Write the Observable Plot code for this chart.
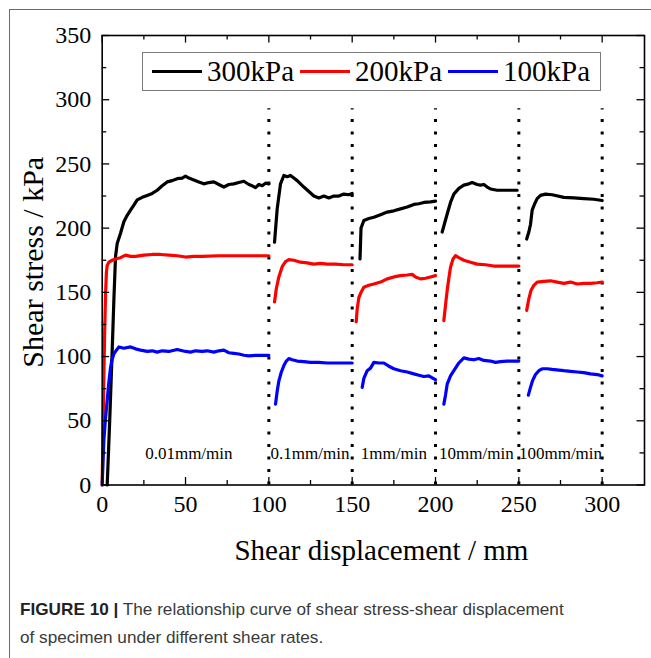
<!DOCTYPE html>
<html>
<head>
<meta charset="utf-8">
<script src="https://cdn.jsdelivr.net/npm/d3@7"></script>
<script src="https://cdn.jsdelivr.net/npm/@observablehq/plot@0.6"></script>
<style>
  html, body { margin: 0; padding: 0; background: #fff; }
  body { width: 651px; height: 658px; position: relative; overflow: hidden; }
  #outer { position: absolute; left: 9px; top: 9px; width: 700px; height: 700px;
           border-top: 1px solid #6b6b6b; border-left: 1px solid #6b6b6b; }
  #chart { position: absolute; left: 0; top: 0; }
  #chart svg, #chart svg text { font-family: 'Liberation Serif', 'Times New Roman', serif !important; }
  #legend { position: absolute; left: 142px; top: 52px; width: 459px; height: 39px;
            border: 1px solid #7a7a7a; background: #fff; display: flex; align-items: center;
            box-sizing: border-box; padding-left: 9px; font-family: 'Liberation Serif', 'Times New Roman', serif; font-size: 29px; }
  #legend .item { display: flex; align-items: center; margin-right: 6px; }
  #legend .sw { width: 50px; height: 3px; margin-right: 5px; }
  #caption { position: absolute; left: 20px; top: 596px; font-family: 'Liberation Sans', Arial, sans-serif;
             font-size: 17px; line-height: 28px; color: #3a3a3a; white-space: nowrap;
             transform-origin: 0 0; transform: scaleX(1.01); }
  #caption b { color: #222; }
</style>
</head>
<body>
<div id="outer"></div>
<div id="chart"></div>
<div id="legend"></div>
<div id="caption"><b>FIGURE 10 |</b> The relationship curve of shear stress-shear displacement<br>of specimen under different shear rates.</div>
<script>
// ---- Data ----
const seriesNames = ["300kPa", "200kPa", "100kPa"];
const seriesColors = ["#000000", "#ff0000", "#0000ff"];

// Segment boundaries (shear displacement, mm) where the rate changes
const rateBoundaries = [100, 150, 200, 250, 300];
const rateLabels = ["0.01mm/min", "0.1mm/min", "1mm/min", "10mm/min", "100mm/min"];
const rateLabelX = [52, 124.7, 175, 224.5, 275];
const rateLabelY = 24.5;

const xTickLabels = [0, 50, 100, 150, 200, 250, 300];
const xMinorTicks = [25, 75, 125, 175, 225, 275];
const yTickLabels = [0, 50, 100, 150, 200, 250, 300, 350];
const yMinorTicks = [25, 75, 125, 175, 225, 275, 325];

// 300 kPa
const x300 = [3,4.5,6,7,8,9,11,13,15,17,19,21,24,27,30,33,36,39,42,45,48,50,52,55,58,61,64,67,70,73,76,79,82,85,88,90,92,94,96,98,100,
  103.4,105,107,109,111,113,115,117,119,121,124,127,130,133,136,139,142,145,148,150,
  154.7,155.3,157,160,163,167,171,175,179,183,187,190,193,197,200,
  204,207,209,211,214,217,220,222,225,227,229,231,233,237,241,245,249,
  254.7,256,257,258,259.5,261,263,266,270,277,283,289,295,300];
const y300 = [0,50,105,144,178,188,196,205,210,214,218,222,224,225.5,227,229.5,233,236,237,238.5,239,240.5,239,237.5,236,234.5,235.5,236,234,232,234,234.5,235.5,236.5,234,233,231.5,234,233,235,234.5,
  189,215,234.5,241,240,241,239,237,234.5,232,228.5,225,223.5,225,223.5,225,225,226.5,226,227,
  176,200,206,207.5,208.5,210.5,212.5,213.5,215,216.5,218.5,219,220,220.5,221,
  197,211,220,226.5,231,233.5,234.5,235.5,234,233.5,234,232,230.5,229.5,229.5,229.5,229.5,
  191.5,197,203,214,219,223,225.5,226.5,226,224,223.5,223,222.5,221.5];

// 200 kPa
const x200 = [0,0.5,1,1.5,2,2.5,3,4,6,8,11,14,17,20,25,30,35,40,45,50,55,60,70,80,90,100,
  103.4,104.5,106,108,110,112,115,119,123,127,131,135,140,145,150,
  152.4,153,154,155.5,157,160,163,167,171,175,179,183,186,188,191,194,197,200,
  205,206,207,208,209,210.5,212,214,217,221,225,230,235,240,245,250,
  254.7,256,257.3,259,261,265,269,273,277,281,285,289,293,297,300];
const y200 = [0,45,85,120,148,165,171,173.5,175,176,177,179,178,178,179,179.5,179.5,179,178.5,177.5,178,178,178.5,178.5,178.5,178.5,
  142.5,153,162,170,174,175.5,175,173.5,173,172,172.5,172,172,171.5,171.5,
  127,137,146,150.5,154,155.5,156.5,158,160.5,162,163,163.5,164,162,160.5,161,162,163,
  128,140,151.5,161,169.5,176,178.5,177,175,173.5,172,171.5,170.5,170.5,170.5,170.5,
  136,145,151.5,155.5,158,158.5,159,158,157,158,156.5,157,157,157.5,158];

// 100 kPa
const x100 = [0,0.5,1,2,3,4,5,6,7,8.5,10,13,17,20,23,27,30,33,36,40,45,50,53,56,60,63,67,70,73,76,79,82,85,88,92,96,100,
  104,105,106,107.5,109,110.5,112,114,117,121,125,130,135,140,145,150,
  156,157,159,161,163,166,169,172,175,179,183,187,190,193,196,198,200,
  205,206,207,209,211,214,217,220,223,226,229,233,236,239,243,247,250,
  255.7,257,258.3,260,262,264,267,270,274,277,281,285,289,293,297,300];
const y100 = [0,18,35,52,66,80,91.5,98,102,105,107.5,106.5,107.5,106,105,104,104.5,103.5,104.5,104,105.5,104,103.5,104.5,104,104.5,103.5,104.5,105,103,102.5,102,101,100.5,101,101,101,
  63,73,81,88,93,96.5,98.5,97.5,96.5,96,95.5,95.5,95,95,95,95,
  76,83,89,91,95.5,95,95,92.5,90.5,89,88,86.5,85.5,84.5,85,83.5,82,
  63,70,78.5,85,89,95,99,98,97.5,98.5,97,96.5,95.5,96,96.5,96.5,96.5,
  70,76,81.5,86,89,90.5,90.5,90,89.5,89,88.5,88,87.5,86.5,86,85];

// ---- Build table ----
const segOf = x => rateBoundaries.findIndex(b => x <= b + 1.5);
const rows = [];
[[x300, y300], [x200, y200], [x100, y100]].forEach(([xs, ys], i) => {
  xs.forEach((x, j) => rows.push({x, y: ys[j], s: seriesNames[i], seg: seriesNames[i] + "-" + segOf(x)}));
});

// ---- Layout ----
const W = 651, H = 580;
const mL = 101.7, mR = 7, mT = 35, mB = 95.5;
const FW = W - mL - mR, FH = H - mT - mB;
const majorLen = 7.5, minorLen = 4.5;
const serif = "'Liberation Serif', 'Times New Roman', serif";

const chart = Plot.plot({
  width: W, height: H,
  marginLeft: mL, marginRight: mR, marginTop: mT, marginBottom: mB,
  style: {fontFamily: serif, fontSize: "24px", color: "#000", background: "transparent"},
  x: {domain: [0, 325.4]},
  y: {domain: [0, 350]},
  color: {domain: seriesNames, range: seriesColors},
  marks: [
    Plot.ruleX(rateBoundaries, {y1: 0, y2: 293, stroke: "#000", strokeWidth: 3, strokeDasharray: "3,9.5"}),
    Plot.line(rows, {x: "x", y: "y", z: "seg", stroke: "s", strokeWidth: 3.2, strokeLinejoin: "round", strokeLinecap: "round"}),
    Plot.text(rateLabels, {x: (d, i) => rateLabelX[i], y: () => rateLabelY, text: d => d, fontSize: 17, fontFamily: serif}),
    // inward ticks on all four sides
    Plot.ruleX(xTickLabels, {insetTop: FH - majorLen, stroke: "#000", strokeWidth: 1.3}),
    Plot.ruleX(xTickLabels, {insetBottom: FH - majorLen, stroke: "#000", strokeWidth: 1.3}),
    Plot.ruleX(xMinorTicks, {insetTop: FH - minorLen, stroke: "#000", strokeWidth: 1.3}),
    Plot.ruleX(xMinorTicks, {insetBottom: FH - minorLen, stroke: "#000", strokeWidth: 1.3}),
    Plot.ruleY(yTickLabels, {insetRight: FW - majorLen, stroke: "#000", strokeWidth: 1.3}),
    Plot.ruleY(yTickLabels, {insetLeft: FW - majorLen, stroke: "#000", strokeWidth: 1.3}),
    Plot.ruleY(yMinorTicks, {insetRight: FW - minorLen, stroke: "#000", strokeWidth: 1.3}),
    Plot.ruleY(yMinorTicks, {insetLeft: FW - minorLen, stroke: "#000", strokeWidth: 1.3}),
    Plot.axisX({ticks: xTickLabels, tickSize: 0, tickPadding: 10, fontSize: 24, fontFamily: serif, label: null}),
    Plot.axisY({ticks: yTickLabels, tickSize: 0, tickPadding: 11, fontSize: 24, fontFamily: serif, label: null}),
    Plot.frame({stroke: "#000", strokeWidth: 1.6}),
    Plot.text(["Shear stress / kPa"], {frameAnchor: "left", textAnchor: "middle", lineAnchor: "middle", dx: -69, dy: 2, rotate: -90, fontSize: 30, fontFamily: serif}),
    Plot.text(["Shear displacement / mm"], {frameAnchor: "bottom", textAnchor: "middle", lineAnchor: "middle", dx: 8, dy: 66, fontSize: 29, fontFamily: serif})
  ]
});
document.getElementById("chart").appendChild(chart);

// ---- Legend ----
const legend = document.getElementById("legend");
seriesNames.forEach((name, i) => {
  const item = document.createElement("div");
  item.className = "item";
  const sw = document.createElement("div");
  sw.className = "sw";
  sw.style.background = seriesColors[i];
  const label = document.createElement("span");
  label.textContent = name;
  item.appendChild(sw);
  item.appendChild(label);
  legend.appendChild(item);
});
</script>
</body>
</html>
